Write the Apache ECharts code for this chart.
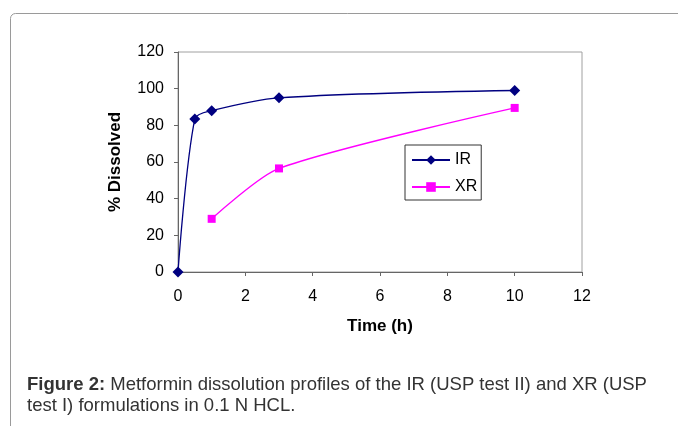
<!DOCTYPE html>
<html><head><meta charset="utf-8">
<script src="https://cdn.jsdelivr.net/npm/echarts@6/dist/echarts.min.js"></script>
<style>html,body{margin:0;padding:0;background:#fff}#c{width:678px;height:426px}</style>
</head><body><div id="c"></div>
<script>
const irTime = [0, 0.5, 1, 3, 10];
const irValues = [0, 83.5, 88, 95, 99];
const xrTime = [1, 3, 10];
const xrValues = [29, 56.5, 89.5];
const xTicks = [0, 2, 4, 6, 8, 10, 12];
const yTicks = [0, 20, 40, 60, 80, 100, 120];

const chart = echarts.init(document.getElementById('c'), null, {renderer: 'canvas'});
const font = 'Liberation Sans, Arial, sans-serif';
chart.setOption({
  animation: false,
  backgroundColor: '#fff',
  title: {
    left: 27, top: 374, padding: 0,
    text: '{b|Figure 2:} Metformin dissolution profiles of the IR (USP test II) and XR (USP\ntest I) formulations in 0.1 N HCL.',
    textStyle: {
      fontFamily: font, fontSize: 18.5, fontWeight: 'normal', color: '#333', lineHeight: 21,
      rich: {b: {fontFamily: font, fontSize: 18.5, fontWeight: 'bold', color: '#333', lineHeight: 21}}
    }
  },
  graphic: [{
    type: 'rect', silent: true, z: -1,
    shape: {x: 10.5, y: 13.5, width: 720, height: 480, r: 5},
    style: {fill: 'none', stroke: '#9a9a9a', lineWidth: 1}
  }],
  grid: {left: 178, top: 52, right: 96, bottom: 154, show: true, borderColor: '#a0a0a0', borderWidth: 1, backgroundColor: 'transparent'},
  legend: {
    left: 405, top: 145, orient: 'vertical', itemGap: 11,
    itemWidth: 38, itemHeight: 12,
    padding: [7, 4, 5, 6],
    borderColor: '#333', borderWidth: 1, borderRadius: 0,
    textStyle: {fontFamily: font, fontSize: 16, color: '#000'},
    data: ['IR', 'XR']
  },
  xAxis: {
    type: 'value', min: 0, max: 12, interval: 2,
    name: 'Time (h)', nameLocation: 'middle', nameGap: 46,
    nameTextStyle: {fontFamily: font, fontSize: 17, fontWeight: 'bold', color: '#000'},
    axisLine: {onZero: false, lineStyle: {color: '#666', width: 1}},
    axisTick: {show: true, inside: false, length: 4, lineStyle: {color: '#666'}},
    axisLabel: {fontFamily: font, fontSize: 16, color: '#000', margin: 17},
    splitLine: {show: false}
  },
  yAxis: {
    type: 'value', min: 0, max: 120, interval: 20,
    name: '% Dissolved', nameLocation: 'middle', nameGap: 54, nameRotate: 90,
    nameTextStyle: {fontFamily: font, fontSize: 17, fontWeight: 'bold', color: '#000'},
    axisLine: {show: true, lineStyle: {color: '#666', width: 1}},
    axisTick: {show: true, inside: false, length: 4, lineStyle: {color: '#666'}},
    axisLabel: {fontFamily: font, fontSize: 16, color: '#000', margin: 14},
    splitLine: {show: false}
  },
  series: [{
    name: 'IR', type: 'line', smooth: 0.3,
    data: irTime.map((t, i) => [t, irValues[i]]),
    symbol: 'diamond', symbolSize: 11,
    itemStyle: {color: '#000080'},
    lineStyle: {color: '#000080', width: 1.3}
  }, {
    name: 'XR', type: 'line', smooth: 0.25,
    data: xrTime.map((t, i) => [t, xrValues[i]]),
    symbol: 'rect', symbolSize: 8,
    itemStyle: {color: '#ff00ff'},
    lineStyle: {color: '#ff00ff', width: 1.3}
  }]
});
</script></body></html>
